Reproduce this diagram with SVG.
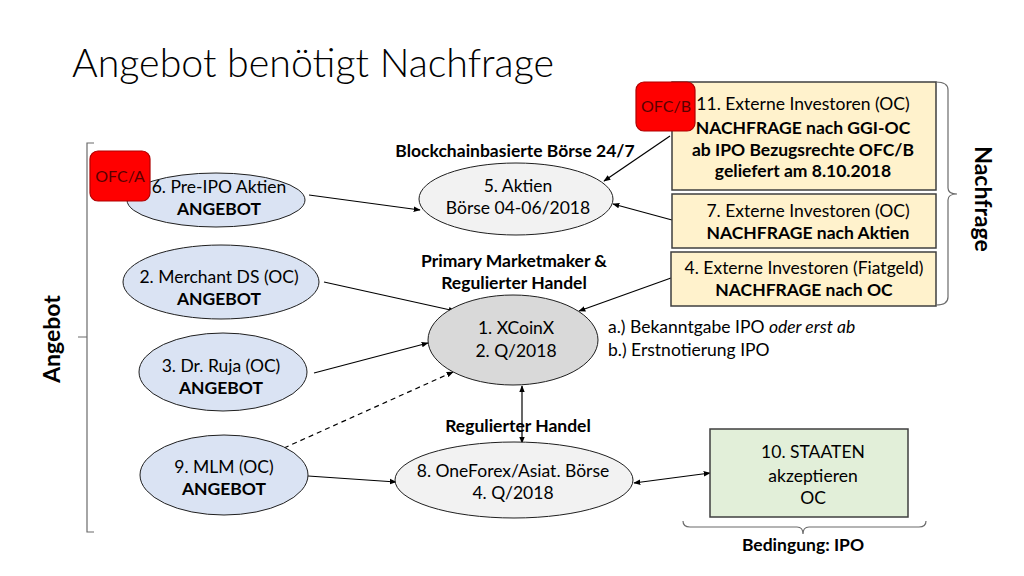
<svg xmlns="http://www.w3.org/2000/svg" width="1024" height="576" viewBox="0 0 1024 576">
<defs>
<marker id="ah" viewBox="0 0 10 10" refX="9" refY="5" markerWidth="7" markerHeight="7" orient="auto-start-reverse" markerUnits="userSpaceOnUse">
<path d="M0,1 L10,5 L0,9 z" fill="#000"/>
</marker>
<style>
text{font-family:Lato,"Open Sans","Liberation Sans",sans-serif;font-size:17.5px;fill:#000;text-anchor:middle}
.b{font-weight:bold}
.ell{stroke:#1f1f1f;stroke-width:1}
.blue{fill:#dae3f3}
.lg{fill:#f2f2f2}
.gr{fill:#d9d9d9}
.box{fill:#fff2cc;stroke:#3f3f3f;stroke-width:1.5}
.green{fill:#e2efd9;stroke:#3f3f3f;stroke-width:1.5}
.red{fill:#ff0000;stroke:#b00000;stroke-width:1.2}
.redt{fill:#5a0000;font-size:16px}
.con{stroke:#000;stroke-width:1.2;fill:none}
.dash{stroke-dasharray:5 4}
.br{stroke:#6b6b6b;stroke-width:1.2;fill:none}
</style>
</defs>
<rect width="1024" height="576" fill="#fff"/>
<text x="72" y="77" style="font-size:40px;font-weight:300;text-anchor:start" textLength="482" lengthAdjust="spacingAndGlyphs">Angebot benötigt Nachfrage</text>

<g id="connectors">
<line class="con" x1="309" y1="195" x2="420" y2="210" marker-end="url(#ah)"/>
<line class="con" x1="670" y1="136" x2="604" y2="181" marker-end="url(#ah)"/>
<line class="con" x1="672" y1="220" x2="613" y2="204" marker-end="url(#ah)"/>
<line class="con" x1="324" y1="282" x2="455" y2="311" marker-end="url(#ah)"/>
<line class="con" x1="671" y1="278" x2="579" y2="311" marker-end="url(#ah)"/>
<line class="con" x1="314" y1="373" x2="428" y2="343" marker-end="url(#ah)"/>
<line class="con dash" x1="284" y1="448" x2="453" y2="372" marker-end="url(#ah)"/>
<line class="con" x1="522" y1="443" x2="522" y2="386" marker-start="url(#ah)" marker-end="url(#ah)"/>
<line class="con" x1="308" y1="476" x2="396" y2="482" marker-end="url(#ah)"/>
<line class="con" x1="634" y1="483" x2="710" y2="473" marker-start="url(#ah)" marker-end="url(#ah)"/>
</g>

<g id="n6">
<ellipse class="ell blue" cx="216" cy="200" rx="89" ry="27"/>
<text x="219" y="193">6. Pre-IPO Aktien</text>
<text class="b" x="219" y="215">ANGEBOT</text>
</g>
<g id="ofcA">
<rect class="red" x="90" y="151" width="60" height="50" rx="8"/>
<text class="redt" x="120" y="182">OFC/A</text>
</g>
<g id="n2">
<ellipse class="ell blue" cx="221" cy="282" rx="98" ry="37"/>
<text x="219" y="283">2. Merchant DS (OC)</text>
<text class="b" x="219" y="305">ANGEBOT</text>
</g>
<g id="n3">
<ellipse class="ell blue" cx="223" cy="372" rx="84" ry="39"/>
<text x="221" y="372">3. Dr. Ruja (OC)</text>
<text class="b" x="221" y="394">ANGEBOT</text>
</g>
<g id="n9">
<ellipse class="ell blue" cx="224" cy="475" rx="84" ry="40"/>
<text x="224" y="473">9. MLM (OC)</text>
<text class="b" x="224" y="495">ANGEBOT</text>
</g>
<g id="n5">
<ellipse class="ell lg" cx="516" cy="199" rx="97" ry="36"/>
<text x="518" y="192">5. Aktien</text>
<text x="518" y="214">Börse 04-06/2018</text>
<text class="b" x="515" y="157">Blockchainbasierte Börse 24/7</text>
</g>
<g id="n1">
<ellipse class="ell gr" cx="513" cy="340" rx="85" ry="45"/>
<text x="516" y="334">1. XCoinX</text>
<text x="516" y="357">2. Q/2018</text>
<text class="b" x="514" y="267">Primary Marketmaker &amp;</text>
<text class="b" x="514" y="289">Regulierter Handel</text>
<text x="608" y="333" style="text-anchor:start">a.) Bekanntgabe IPO <tspan font-style="italic">oder erst ab</tspan></text>
<text x="608" y="356" style="text-anchor:start">b.) Erstnotierung IPO</text>
</g>
<g id="n8">
<ellipse class="ell lg" cx="514" cy="480" rx="119" ry="38"/>
<text x="513" y="477">8. OneForex/Asiat. Börse</text>
<text x="513" y="499">4. Q/2018</text>
<text class="b" x="518" y="432">Regulierter Handel</text>
</g>
<g id="n11">
<rect class="box" x="672" y="82" width="264" height="108"/>
<text x="803" y="110">11. Externe Investoren (OC)</text>
<text class="b" x="803" y="134">NACHFRAGE nach GGI-OC</text>
<text class="b" x="803" y="156">ab IPO Bezugsrechte OFC/B</text>
<text class="b" x="803" y="177">geliefert am 8.10.2018</text>
</g>
<g id="ofcB">
<rect class="red" x="636" y="82" width="59" height="49" rx="8"/>
<text class="redt" x="666" y="112">OFC/B</text>
</g>
<g id="n7">
<rect class="box" x="672" y="194" width="264" height="54"/>
<text x="808" y="217">7. Externe Investoren (OC)</text>
<text class="b" x="808" y="239">NACHFRAGE nach Aktien</text>
</g>
<g id="n4">
<rect class="box" x="671" y="252" width="265" height="54"/>
<text x="804" y="274">4. Externe Investoren (Fiatgeld)</text>
<text class="b" x="804" y="296">NACHFRAGE nach OC</text>
</g>
<g id="n10">
<rect class="green" x="710" y="429" width="198" height="88"/>
<text x="813" y="458">10. STAATEN</text>
<text x="813" y="482">akzeptieren</text>
<text x="813" y="504">OC</text>
</g>

<g id="brackets">
<path class="br" d="M94,143 H87 V532 H94 M87,337 H78"/>
<path class="br" d="M936,82 Q948,82 948,90 V188 Q948,194 957,194 Q948,194 948,200 V297 Q948,305 936,305"/>
<path class="br" d="M683,521 Q683,527 690,527 H797 Q803,527 803,534 Q803,527 809,527 H919 Q926,527 926,521"/>
<text class="b" transform="translate(60,339) rotate(-90)" style="font-size:23px">Angebot</text>
<text class="b" transform="translate(975,199) rotate(90)" style="font-size:23px">Nachfrage</text>
<text class="b" x="803" y="551">Bedingung: IPO</text>
</g>
</svg>
